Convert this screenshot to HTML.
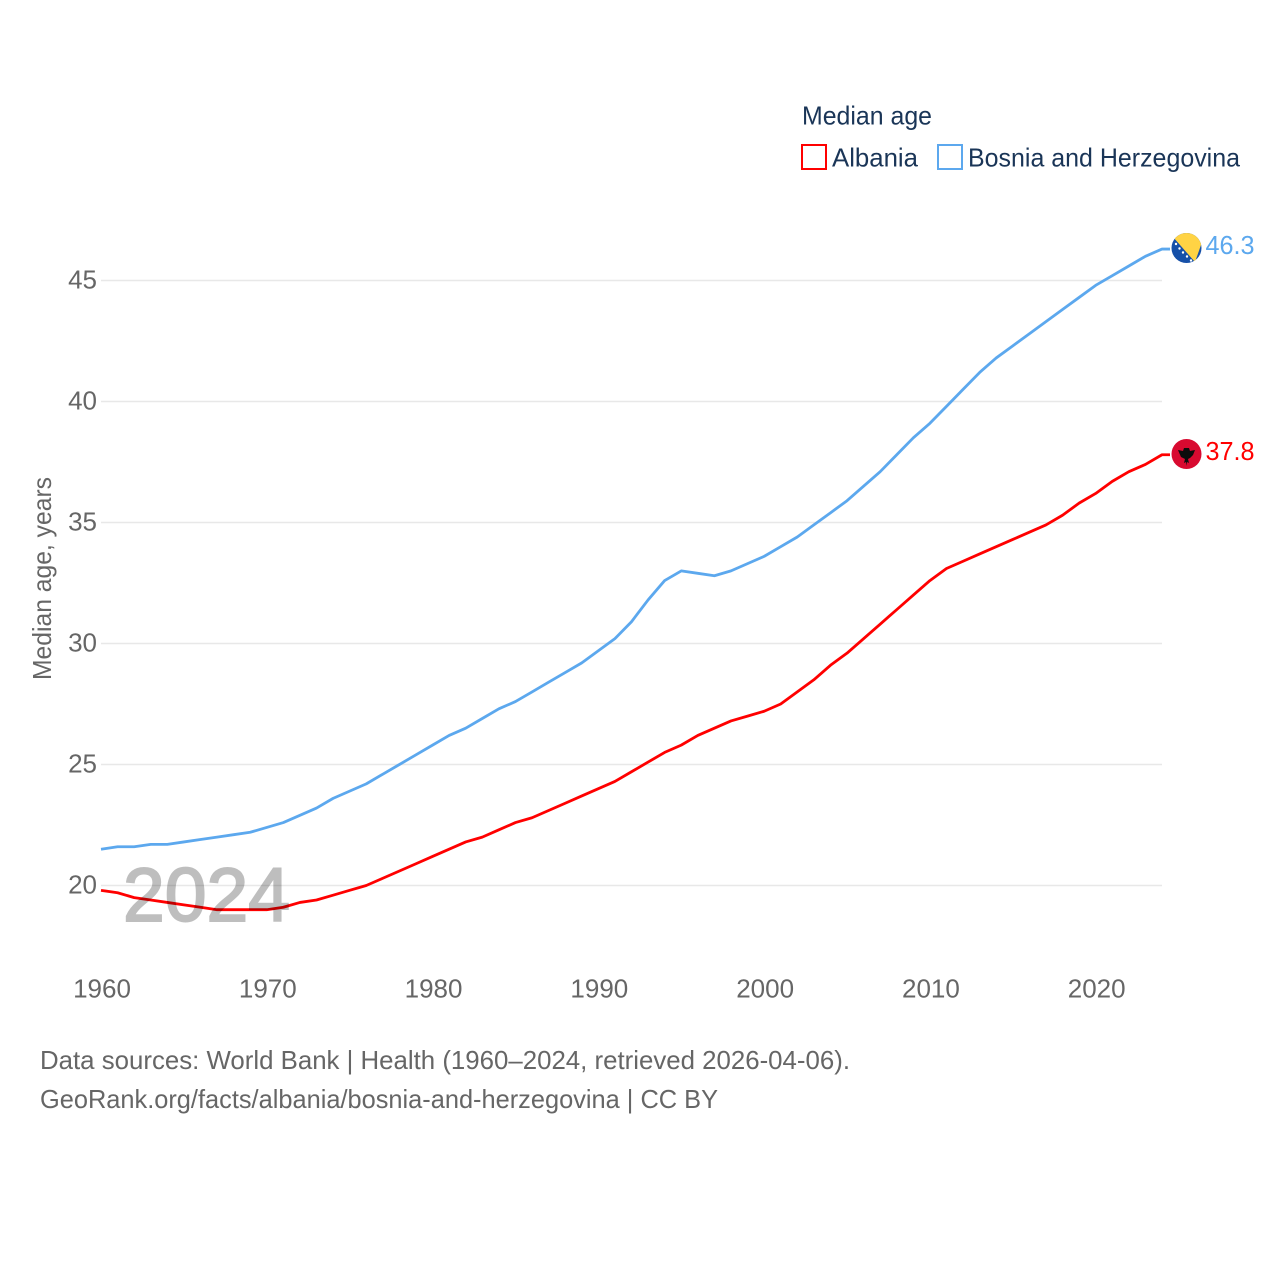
<!DOCTYPE html>
<html lang="en">
<head>
<meta charset="utf-8">
<title>Median age: Albania and Bosnia and Herzegovina</title>
<style>
html,body{margin:0;padding:0;background:#fff;width:1280px;height:1280px;overflow:hidden}
svg{display:block}
text{font-family:"Liberation Sans",sans-serif}
</style>
</head>
<body>
<svg id="chart" xmlns="http://www.w3.org/2000/svg" width="1280" height="1280" viewBox="0 0 1280 1280">
  <rect width="1280" height="1280" fill="#fff"/>
  <g id="grid"></g>
  <g id="yticks"></g>
  <g id="xticks"></g>
  <text transform="translate(51,680) rotate(-90)" font-size="26" fill="#666" textLength="203" lengthAdjust="spacingAndGlyphs">Median age, years</text>
  <g id="series"></g>
  <text x="123" y="921" font-size="76" font-weight="400" fill="#000" stroke="#000" stroke-width="2" opacity="0.25" textLength="167" lengthAdjust="spacingAndGlyphs">2024</text>

  <g>
    <text x="802" y="124.500" font-size="26" fill="#1a3557" textLength="130" lengthAdjust="spacingAndGlyphs">Median age</text>
    <rect x="802" y="145" width="24" height="24" fill="#fff" stroke="#ff0000" stroke-width="2"/>
    <text x="832" y="166.500" font-size="26" fill="#1a3557" textLength="86" lengthAdjust="spacingAndGlyphs">Albania</text>
    <rect x="938" y="145" width="24" height="24" fill="#fff" stroke="#5ca8ee" stroke-width="2"/>
    <text x="968" y="166.500" font-size="26" fill="#1a3557" textLength="272" lengthAdjust="spacingAndGlyphs">Bosnia and Herzegovina</text>
  </g>

  <defs>
    <clipPath id="ba-clip"><circle cx="1186.500" cy="248" r="15"/></clipPath>
  </defs>
  <g id="flag-bosnia" clip-path="url(#ba-clip)">
    <rect x="1170" y="232" width="33" height="32" fill="#1650a8"/>
    <polygon points="1173,237 1178,232 1201,232 1201,245 1195,262" fill="#ffd344"/>
    <g fill="#fff">
      <circle cx="1176" cy="244" r="1.200"/><circle cx="1179.500" cy="248.500" r="1.200"/><circle cx="1183" cy="252.500" r="1.200"/><circle cx="1187" cy="256.500" r="1.200"/><circle cx="1191" cy="260.500" r="1.200"/>
    </g>
  </g>
  <g id="flag-albania">
    <circle cx="1186.500" cy="454" r="15" fill="#d80a30"/>
    <polygon points="1178,450 1183,451 1184,448 1189,448 1190,451 1195,450 1193,455 1190,458 1188,459 1189,463 1187,462 1186.500,466 1186,462 1184,463 1185,459 1181,457" fill="#0c0c0c"/>
  </g>
  <text x="1205.500" y="254" font-size="26" fill="#5ca8ee" textLength="49" lengthAdjust="spacingAndGlyphs">46.3</text>
  <text x="1205.500" y="460" font-size="26" fill="#ff0000" textLength="49" lengthAdjust="spacingAndGlyphs">37.8</text>

  <text x="40" y="1069" font-size="26" fill="#666" textLength="810" lengthAdjust="spacingAndGlyphs">Data sources: World Bank | Health (1960–2024, retrieved 2026-04-06).</text>
  <text x="40" y="1108" font-size="26" fill="#666" textLength="678" lengthAdjust="spacingAndGlyphs">GeoRank.org/facts/albania/bosnia-and-herzegovina | CC BY</text>
</svg>
<script>
const startYear = 1960;
const xTickLabels = [1960, 1970, 1980, 1990, 2000, 2010, 2020];
const yTickLabels = [20, 25, 30, 35, 40, 45];
const albaniaValues = [19.8,19.7,19.5,19.4,19.3,19.2,19.1,19.0,19.0,19.0,19.0,19.1,19.3,19.4,19.6,19.8,20.0,20.3,20.6,20.9,21.2,21.5,21.8,22.0,22.3,22.6,22.8,23.1,23.4,23.7,24.0,24.3,24.7,25.1,25.5,25.8,26.2,26.5,26.8,27.0,27.2,27.5,28.0,28.5,29.1,29.6,30.2,30.8,31.4,32.0,32.6,33.1,33.4,33.7,34.0,34.3,34.6,34.9,35.3,35.8,36.2,36.7,37.1,37.4,37.8];
const bosniaValues = [21.5,21.6,21.6,21.7,21.7,21.8,21.9,22.0,22.1,22.2,22.4,22.6,22.9,23.2,23.6,23.9,24.2,24.6,25.0,25.4,25.8,26.2,26.5,26.9,27.3,27.6,28.0,28.4,28.8,29.2,29.7,30.2,30.9,31.8,32.6,33.0,32.9,32.8,33.0,33.3,33.6,34.0,34.4,34.9,35.4,35.9,36.5,37.1,37.8,38.5,39.1,39.8,40.5,41.2,41.8,42.3,42.8,43.3,43.8,44.3,44.8,45.2,45.6,46.0,46.3];

const NS = 'http://www.w3.org/2000/svg';
const plotLeft = 101, plotRight = 1162;
function xScale(year) { return plotLeft + (year - 1960) * (plotRight - plotLeft) / 64; }
function yScale(v) { return 885.5 - (v - 20) * 24.2; }

const grid = document.getElementById('grid');
const yticks = document.getElementById('yticks');
const xticks = document.getElementById('xticks');
const seriesGroup = document.getElementById('series');

yTickLabels.forEach(function (v) {
  const line = document.createElementNS(NS, 'line');
  line.setAttribute('x1', plotLeft);
  line.setAttribute('x2', plotRight);
  line.setAttribute('y1', yScale(v));
  line.setAttribute('y2', yScale(v));
  line.setAttribute('stroke', '#e8e8e8');
  line.setAttribute('stroke-width', '1.5');
  
  
  grid.appendChild(line);

  const label = document.createElementNS(NS, 'text');
  label.setAttribute('x', 97);
  label.setAttribute('y', yScale(v) + 8);
  label.setAttribute('text-anchor', 'end');
  label.setAttribute('font-size', '26');
  label.setAttribute('fill', '#666');
  
  
  label.textContent = v;
  yticks.appendChild(label);
});

xTickLabels.forEach(function (year) {
  const label = document.createElementNS(NS, 'text');
  label.setAttribute('x', xScale(year) + 1);
  label.setAttribute('y', 997.5);
  label.setAttribute('text-anchor', 'middle');
  label.setAttribute('font-size', '26');
  label.setAttribute('fill', '#666');
  
  
  label.textContent = year;
  xticks.appendChild(label);
});

function drawSeries(values, color, name) {
  const coords = values.map(function (v, i) {
    return xScale(startYear + i).toFixed(2) + ',' + yScale(v).toFixed(2);
  });
  const lastY = yScale(values[values.length - 1]).toFixed(2);
  coords.push((plotRight + 8) + ',' + lastY);
  const poly = document.createElementNS(NS, 'polyline');
  poly.setAttribute('points', coords.join(' '));
  poly.setAttribute('fill', 'none');
  poly.setAttribute('stroke', color);
  poly.setAttribute('stroke-width', '2.8');
  poly.setAttribute('stroke-linejoin', 'round');
  
  
  seriesGroup.appendChild(poly);
}
drawSeries(bosniaValues, '#5ca8ee', 'line-bosnia');
drawSeries(albaniaValues, '#ff0000', 'line-albania');
</script>
</body>
</html>
